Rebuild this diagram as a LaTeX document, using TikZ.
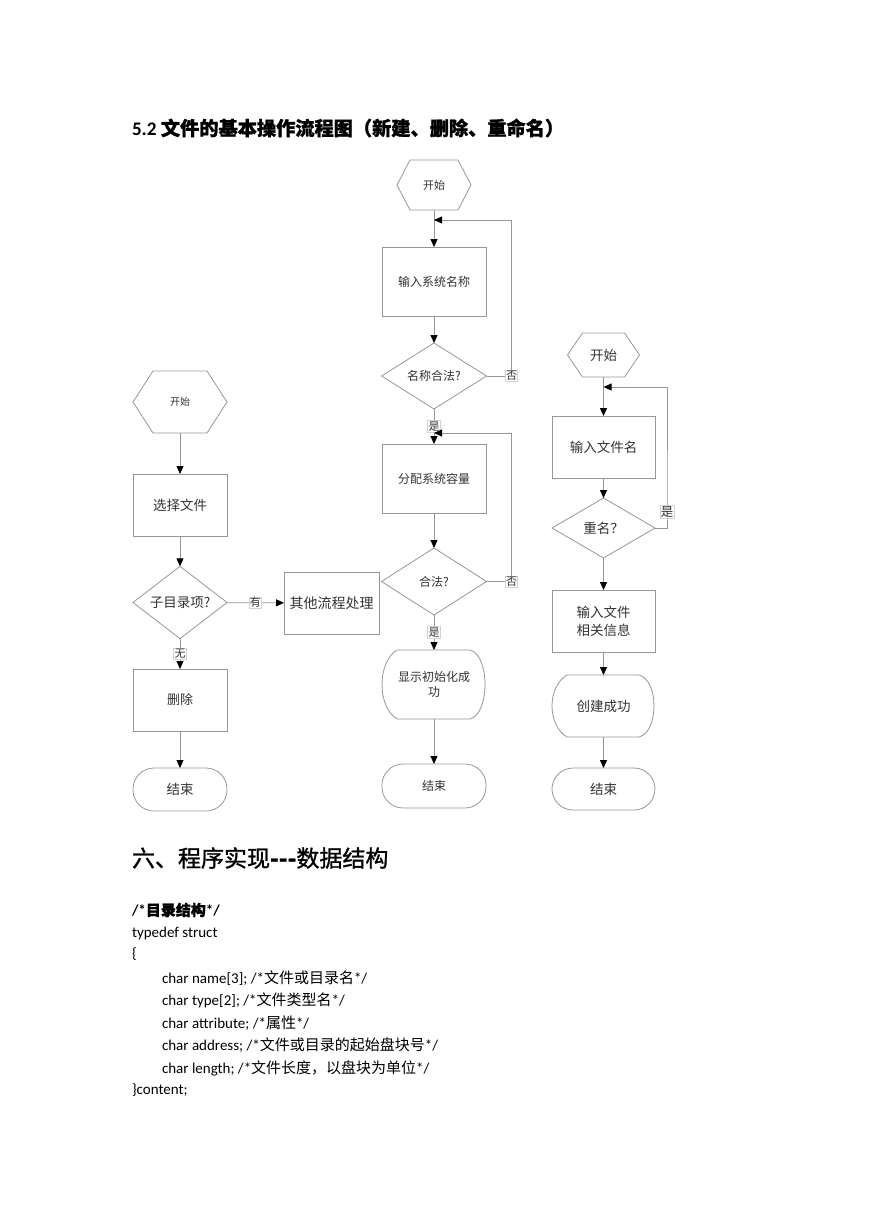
\documentclass[tikz,border=0pt]{standalone}
\usepackage{fontspec}
\setmainfont{Carlito}
\newfontfamily\cjk{Noto Sans CJK SC}
\newfontfamily\cjkb{Noto Sans CJK SC}[FakeBold=1.2]
\usetikzlibrary{arrows.meta,shapes.geometric,positioning}

\definecolor{lineg}{RGB}{150,150,150}
\definecolor{textg}{RGB}{50,50,50}

% outline of a start hexagon round a plain node
\newcommand{\hexout}[2]{\draw[shp] (#1.west) -- ([xshift=#2]#1.north west) -- ([xshift=-#2]#1.north east) -- (#1.east) -- ([xshift=-#2]#1.south east) -- ([xshift=#2]#1.south west) -- cycle;}
% outline of a display shape round a plain node
\newcommand{\dispout}[1]{\draw[shp] ([xshift=15pt]#1.north west) -- ([xshift=-16pt]#1.north east) .. controls ([xshift=4pt,yshift=-5pt]#1.north east) and ([xshift=4pt,yshift=5pt]#1.south east) .. ([xshift=-16pt]#1.south east) -- ([xshift=15pt]#1.south west) .. controls ([xshift=-5pt,yshift=12pt]#1.south west) and ([xshift=-5pt,yshift=-12pt]#1.north west) .. cycle;}

\tikzset{
  shp/.style={draw=lineg, line width=0.8pt},
  every node/.style={outer sep=0pt, inner sep=1pt, align=center, text=textg},
  procbox/.style={shp, rectangle},
  decide/.style={shp, diamond, inner sep=0pt},
  endcap/.style={shp, rectangle, rounded corners=21pt},
  arr/.style={draw=lineg, line width=0.8pt, -{Triangle[length=8pt,width=7pt,black]}},
  lab/.style={draw=gray!35, fill=white, inner sep=0.8pt, font=\cjk\fontsize{11}{12}\selectfont},
  codeline/.style={anchor=west, text=black, font=\fontsize{15}{16}\selectfont},
}

\begin{document}
\begin{tikzpicture}[x=1pt, y=-1pt]
	\useasboundingbox (0,0) rectangle (869,1228);

	% heading
	\node[anchor=west, text=black] (title) at (131,128) {\fontsize{19.2}{21}\selectfont\bfseries 5.2 {\cjkb 文件的基本操作流程图（新建、删除、重命名）}};

	% left: delete
	\node[minimum width=94pt, minimum height=62pt, font=\cjk\fontsize{10}{12}\selectfont] (s1) at (180,402) {开始};
	\hexout{s1}{20pt}
	\node[procbox, minimum width=94pt, minimum height=62pt, font=\cjk\fontsize{13.5}{15}\selectfont] (b11) at (180,505) {选择文件};
	\node[decide, minimum width=94pt, minimum height=61pt, font=\cjk\fontsize{13.5}{15}\selectfont] (d11) at (180,602.5) {子目录项?};
	\node[procbox, minimum width=95pt, minimum height=62pt, font=\cjk\fontsize{14}{16}\selectfont] (b12) at (331.5,603) {其他流程处理};
	\node[procbox, minimum width=94pt, minimum height=62pt, font=\cjk\fontsize{13}{15}\selectfont] (b13) at (180,700) {删除};
	\node[endcap, minimum width=94pt, minimum height=43pt, font=\cjk\fontsize{13.5}{15}\selectfont] (e1) at (180,789.5) {结束};
	\draw[arr] (s1) -- (b11);
	\draw[arr] (b11) -- (d11);
	\draw[arr] (d11) -- (b12) node[lab, midway] {有};
	\draw[arr] (d11) -- (b13) node[lab, midway] {无};
	\draw[arr] (b13) -- (e1);

	% middle: new system
	\node[minimum width=74pt, minimum height=50pt, font=\cjk\fontsize{11}{12}\selectfont] (s2) at (434,185) {开始};
	\hexout{s2}{13pt}
	\coordinate (j21) at (434,220);
	\node[procbox, minimum width=104pt, minimum height=69pt, font=\cjk\fontsize{12}{14}\selectfont] (b21) at (434,281.5) {输入系统名称};
	\node[decide, minimum width=105pt, minimum height=66pt, font=\cjk\fontsize{12}{14}\selectfont] (d21) at (434,376) {名称合法?};
	\coordinate (j22) at (434,433);
	\node[procbox, minimum width=104pt, minimum height=69pt, font=\cjk\fontsize{12}{14}\selectfont] (b22) at (434,478.5) {分配系统容量};
	\node[decide, minimum width=105pt, minimum height=67pt, font=\cjk\fontsize{12}{14}\selectfont] (d22) at (434,581.5) {合法?};
	\node[minimum width=104pt, minimum height=69pt, font=\cjk\fontsize{12}{15}\selectfont] (p21) at (434,684.5) {显示初始化成\\功};
	\dispout{p21}
	\node[endcap, minimum width=104pt, minimum height=44pt, font=\cjk\fontsize{12}{14}\selectfont] (e2) at (434,786) {结束};
	\draw[arr] (s2) -- (b21);
	\draw[arr] (b21) -- (d21);
	\draw[arr] (d21.east) -- ++(25,0) node[lab] {否} |- (j21);
	\draw[arr] (d21) -- (b22) node[lab, midway] {是};
	\draw[arr] (b22) -- (d22);
	\draw[arr] (d22.east) -- ++(25,0) node[lab] {否} |- (j22);
	\draw[arr] (d22) -- (p21) node[lab, midway] {是};
	\draw[arr] (p21) -- (e2);

	% right: create file
	\node[minimum width=72pt, minimum height=44pt, font=\cjk\fontsize{13.5}{15}\selectfont] (s3) at (603.5,355) {开始};
	\hexout{s3}{15pt}
	\coordinate (j31) at (603.5,387);
	\node[procbox, minimum width=103pt, minimum height=62pt, font=\cjk\fontsize{13.5}{15}\selectfont] (b31) at (603.5,447) {输入文件名};
	\node[decide, minimum width=103pt, minimum height=60pt, font=\cjk\fontsize{13.5}{15}\selectfont] (d31) at (603.5,528) {重名？};
	\node[procbox, minimum width=103pt, minimum height=62pt, font=\cjk\fontsize{13.5}{18}\selectfont] (b32) at (603.5,621) {输入文件\\相关信息};
	\node[minimum width=103pt, minimum height=62pt, font=\cjk\fontsize{13.5}{15}\selectfont] (p31) at (603.5,706) {创建成功};
	\dispout{p31}
	\node[endcap, minimum width=103pt, minimum height=42pt, font=\cjk\fontsize{13.5}{15}\selectfont] (e3) at (603.5,789) {结束};
	\draw[arr] (s3) -- (b31);
	\draw[arr] (b31) -- (d31);
	\draw[arr] (d31.east) -- ++(12,0) -- ++(0,-16) node[lab, font=\cjk\fontsize{12.5}{14}\selectfont] {是} |- (j31);
	\draw[arr] (d31) -- (b32);
	\draw[arr] (b32) -- (p31);
	\draw[arr] (p31) -- (e3);

	% section six
	\node[anchor=west, text=black] (sec) at (131,858) {\fontsize{23}{26}\selectfont\cjkb 六、程序实现{\bfseries -{}-{}-}数据结构};
	\node[codeline] (c0) at (131,910) {\bfseries /*{\cjkb 目录结构}*/};
	\node[codeline] (c1) at (131,933) {typedef struct};
	\node[codeline] (c2) at (131,954) {\{};
	\node[codeline] (c3) at (161,978) {char name[3]; /*{\cjk 文件或目录名}*/};
	\node[codeline] (c4) at (161,1000) {char type[2]; /*{\cjk 文件类型名}*/};
	\node[codeline] (c5) at (161,1023) {char attribute; /*{\cjk 属性}*/};
	\node[codeline] (c6) at (161,1045) {char address; /*{\cjk 文件或目录的起始盘块号}*/};
	\node[codeline] (c7) at (161,1068) {char length; /*{\cjk 文件长度，以盘块为单位}*/};
	\node[codeline] (c8) at (131,1090) {\}content;};
\end{tikzpicture}
\end{document}
